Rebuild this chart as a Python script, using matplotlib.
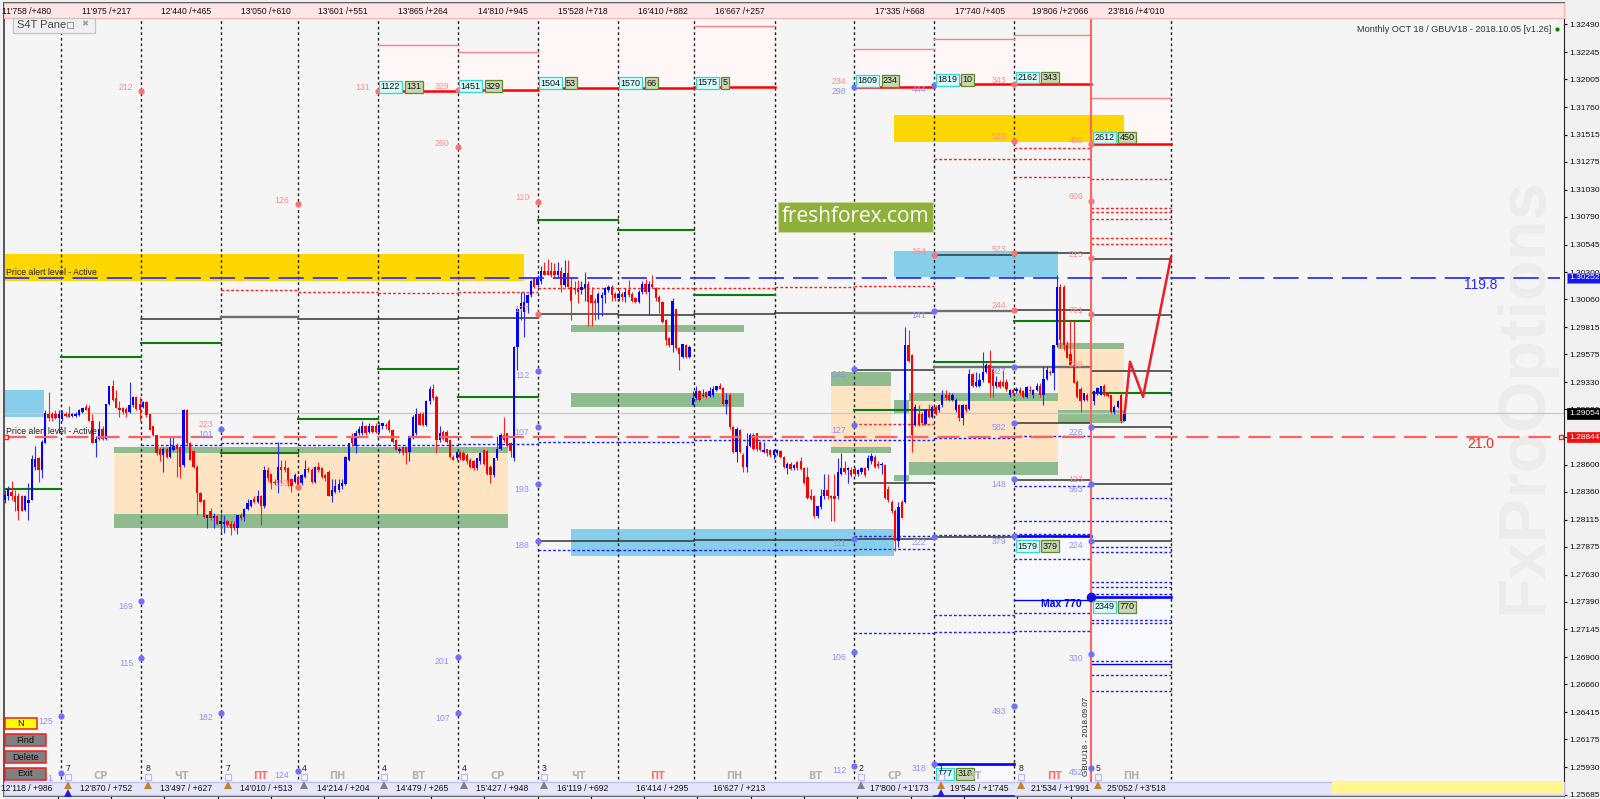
"""Hourly GBUV18 chart with monthly option levels, S4T style."""

import matplotlib

matplotlib.use("Agg")
import matplotlib.pyplot as plt
import numpy as np
from matplotlib.patches import Rectangle

# candles: price minus 1.0, in pips
opens = [2829,2832,2836,2832,2832,2832,2820,2826,2829,2858,2866,2855,2879,2905,2905,2905,2901,2900,2905,2905,
         2903,2903,2904,2907,2911,2910,2899,2879,2883,2892,2883,2914,2930,2919,2910,2910,2909,2907,2913,2920,
         2914,2911,2915,2905,2894,2886,2874,2869,2874,2867,2873,2877,2876,2860,2908,2879,2872,2858,2835,2829,
         2813,2819,2813,2815,2808,2808,2810,2808,2808,2804,2816,2814,2821,2824,2830,2827,2832,2824,2855,2852,
         2845,2844,2858,2858,2857,2847,2845,2849,2844,2849,2856,2855,2845,2858,2857,2851,2854,2832,2836,2838,
         2841,2843,2864,2885,2877,2888,2888,2894,2889,2894,2894,2889,2894,2895,2899,2891,2882,2872,2876,2876,
         2871,2885,2888,2905,2905,2895,2916,2927,2920,2882,2889,2889,2882,2867,2866,2871,2870,2869,2864,2863,
         2857,2863,2873,2872,2858,2851,2866,2874,2886,2888,2879,2866,2964,2998,2995,3003,3010,3025,3019,3022,
         3031,3031,3031,3031,3028,3031,3019,3029,3017,3016,3016,3014,3016,3020,3010,3005,3003,3007,3010,3014,
         3017,3011,3007,3011,3008,3014,3011,3007,3004,3013,3020,3013,3020,3016,3008,3004,2988,2972,2966,2998,
         2963,2955,2966,2955,2913,2919,2925,2921,2924,2921,2922,2926,2930,2928,2914,2922,2893,2871,2891,2869,
         2858,2877,2886,2888,2880,2871,2874,2873,2869,2870,2872,2867,2857,2861,2857,2862,2863,2857,2849,2832,
         2832,2815,2823,2832,2838,2832,2832,2832,2852,2857,2855,2855,2856,2852,2854,2857,2857,2863,2867,2861,
         2860,2860,2839,2827,2819,2793,2827,2827,2966,2957,2895,2905,2905,2896,2908,2902,2911,2908,2913,2922,
         2922,2917,2908,2913,2901,2913,2909,2940,2930,2930,2935,2942,2948,2945,2930,2933,2933,2933,2922,2926,
         2925,2926,2925,2920,2926,2922,2926,2930,2922,2936,2942,2941,2966,3017,3017,2966,2958,2948,2933,2927,
         2917,2922,2922,2916,2923,2922,2930,2923,2922,2907,2911,2922,2899]
highs = [2838,2841,2846,2838,2835,2833,2833,2844,2869,2877,2867,2882,2908,2924,2907,2908,2908,2908,2907,2912,
         2906,2907,2909,2910,2914,2913,2905,2885,2899,2894,2914,2930,2935,2926,2916,2911,2911,2933,2921,2921,
         2920,2916,2916,2905,2894,2886,2876,2876,2876,2885,2885,2879,2877,2909,2909,2880,2873,2860,2836,2829,
         2816,2822,2817,2816,2817,2816,2811,2810,2810,2816,2817,2822,2830,2829,2832,2838,2833,2859,2858,2852,
         2847,2880,2864,2864,2858,2848,2853,2851,2852,2864,2858,2857,2859,2862,2858,2852,2855,2847,2847,2847,
         2847,2868,2879,2888,2891,2894,2899,2895,2897,2895,2897,2898,2897,2897,2900,2892,2883,2876,2877,2877,
         2885,2904,2910,2907,2907,2917,2930,2931,2922,2894,2891,2891,2883,2869,2872,2872,2872,2870,2866,2864,
         2866,2871,2874,2873,2860,2866,2885,2888,2902,2888,2880,2965,2999,3013,3013,3011,3023,3026,3028,3036,
         3039,3042,3039,3038,3039,3035,3041,3041,3025,3022,3023,3022,3030,3022,3017,3007,3013,3013,3017,3019,
         3019,3013,3014,3013,3016,3023,3013,3008,3014,3022,3024,3022,3028,3017,3010,3005,2989,2973,3007,2998,
         2964,2967,2967,2966,2925,2930,2926,2927,2925,2929,2930,2930,2932,2929,2923,2923,2894,2893,2892,2870,
         2888,2888,2888,2888,2881,2880,2874,2874,2874,2874,2873,2868,2862,2862,2861,2863,2867,2858,2858,2839,
         2833,2824,2839,2852,2852,2833,2852,2866,2870,2863,2858,2858,2858,2856,2858,2858,2869,2870,2869,2863,
         2862,2861,2841,2829,2821,2827,2829,2982,2979,2958,2914,2913,2907,2909,2914,2913,2913,2914,2926,2926,
         2924,2923,2919,2914,2914,2914,2945,2941,2942,2941,2960,2950,2961,2947,2938,2935,2944,2936,2927,2927,
         2929,2929,2926,2930,2930,2927,2932,2932,2947,2947,2944,2966,3028,3020,3019,2969,2988,2988,2935,2929,
         2923,2923,2923,2925,2929,2930,2931,2924,2922,2913,2917,2923,2905]
lows = [2826,2829,2829,2819,2811,2819,2819,2811,2829,2855,2845,2848,2879,2899,2899,2900,2888,2899,2902,2902,
        2902,2902,2903,2906,2908,2899,2879,2867,2882,2882,2882,2913,2916,2910,2902,2905,2902,2906,2911,2908,
        2899,2910,2902,2891,2885,2869,2863,2854,2866,2866,2872,2849,2848,2858,2877,2864,2857,2816,2827,2813,
        2804,2811,2804,2807,2801,2800,2805,2798,2802,2799,2811,2810,2820,2823,2826,2826,2807,2822,2846,2839,
        2842,2835,2844,2854,2841,2836,2844,2839,2842,2848,2854,2844,2844,2854,2848,2846,2832,2827,2835,2836,
        2839,2842,2863,2877,2870,2886,2886,2886,2888,2888,2888,2888,2892,2892,2889,2879,2873,2870,2869,2861,
        2863,2883,2886,2895,2894,2894,2914,2917,2870,2880,2882,2879,2866,2864,2864,2864,2863,2861,2857,2855,
        2855,2861,2860,2851,2844,2849,2864,2873,2880,2876,2867,2863,2944,2988,2973,2994,3008,3016,3017,3020,
        3028,3028,3026,3026,3026,3013,3017,3017,2988,3011,3003,3011,3005,2983,2983,2988,2989,2991,3003,3013,
        3005,3005,3005,3005,3004,3008,3004,3003,3003,3011,3011,2992,3016,3005,2994,2985,2966,2964,2960,2961,
        2944,2954,2954,2954,2913,2917,2916,2920,2919,2920,2920,2925,2927,2913,2905,2892,2870,2862,2870,2854,
        2854,2876,2873,2872,2872,2870,2868,2867,2865,2869,2866,2857,2852,2855,2855,2855,2855,2843,2830,2829,
        2813,2813,2821,2830,2830,2810,2810,2830,2851,2852,2844,2849,2850,2850,2852,2849,2855,2861,2857,2857,
        2852,2830,2827,2817,2784,2787,2813,2826,2951,2871,2894,2894,2895,2895,2901,2901,2904,2907,2911,2917,
        2916,2916,2907,2899,2895,2907,2908,2929,2929,2929,2933,2941,2920,2920,2928,2928,2929,2925,2920,2922,
        2923,2922,2919,2919,2923,2919,2925,2920,2913,2935,2939,2926,2964,2963,2961,2954,2948,2932,2919,2907,
        2916,2916,2916,2913,2922,2922,2921,2920,2906,2905,2910,2897,2899]
closes = [2833,2839,2832,2827,2819,2819,2832,2829,2865,2865,2855,2880,2906,2901,2901,2901,2905,2906,2903,2902,
          2905,2905,2908,2910,2908,2899,2879,2883,2892,2883,2914,2930,2917,2910,2908,2907,2906,2913,2920,2909,
          2908,2915,2904,2891,2886,2870,2869,2874,2867,2876,2877,2874,2858,2908,2879,2864,2858,2835,2827,2814,
          2816,2813,2815,2808,2810,2809,2807,2804,2804,2816,2813,2821,2826,2829,2827,2832,2824,2855,2848,2844,
          2844,2858,2855,2855,2845,2841,2851,2841,2851,2856,2855,2845,2858,2855,2849,2848,2832,2838,2841,2843,
          2844,2867,2879,2879,2888,2892,2894,2888,2894,2889,2889,2895,2897,2894,2891,2880,2873,2874,2870,2870,
          2885,2902,2905,2895,2895,2916,2927,2919,2882,2888,2883,2880,2867,2864,2871,2866,2864,2863,2858,2857,
          2866,2870,2861,2852,2851,2866,2874,2886,2882,2877,2872,2964,2998,3003,3004,3010,3022,3017,3026,3031,
          3028,3028,3028,3028,3031,3019,3029,3017,3005,3014,3013,3017,3020,3004,3003,3003,3011,3010,3016,3017,
          3010,3007,3011,3008,3013,3010,3005,3004,3013,3020,3013,3020,3017,3007,3004,2986,2970,2966,3005,2963,
          2958,2967,2955,2964,2919,2925,2917,2922,2920,2925,2927,2930,2927,2914,2917,2893,2871,2892,2871,2858,
          2877,2886,2874,2874,2873,2873,2870,2869,2873,2873,2867,2858,2861,2856,2860,2857,2856,2844,2831,2830,
          2815,2824,2832,2838,2832,2831,2830,2854,2857,2854,2857,2851,2852,2855,2857,2851,2866,2868,2858,2859,
          2861,2831,2829,2819,2793,2823,2813,2966,2952,2886,2911,2895,2897,2908,2902,2911,2905,2913,2922,2919,
          2917,2922,2917,2901,2913,2908,2940,2930,2933,2935,2942,2948,2932,2930,2933,2929,2930,2927,2926,2923,
          2927,2923,2920,2929,2925,2926,2930,2922,2936,2944,2941,2966,3017,2970,2966,2954,2948,2932,2920,2916,
          2923,2917,2917,2925,2928,2930,2922,2921,2907,2911,2916,2899,2905]

# price scale
y_ticks = [1.32490, 1.32245, 1.32005, 1.31760, 1.31515, 1.31275, 1.31030, 1.30790, 1.30545, 1.30300,
           1.30060, 1.29815, 1.29575, 1.29330, 1.29090, 1.28845, 1.28600, 1.28360, 1.28115, 1.27875,
           1.27630, 1.27390, 1.27145, 1.26900, 1.26660, 1.26415, 1.26175, 1.25930, 1.25685]
alert_high = 1.30252
alert_low = 1.28844
last_price = 1.29054

# levels per session: (from session, to session, pips)
strike_lines = [(4,5,3190),(5,6,3191),(6,7,3193),(7,8,3193),(8,9,3194),(10,11,3194),(11,12,3196),(12,13,3196),(13,14,3143)]
cap_lines = [(4,5,3231),(5,6,3225),(8,9,3248),(10,11,3227),(11,12,3236),(12,13,3240),(13,14,3184)]
red_dashes = [(2,3,3014),(3,4,3013),(4,5,3012),(5,6,3013),(6,7,3016),(7,8,3016),(8,9,3016),(9,10,3017),(10,11,3017.5),
              (10,11,2896),(11,12,3130),(12,13,3140),(12,13,3130),(12,13,3114),(13,14,3112),(13,14,3086.5),(13,14,3083),
              (13,14,3077),(13,14,3060.5),(13,14,3055)]
black_lines = [(1,2,2989),(3,4,2989),(4,5,2989),(5,6,2990),(6,7,2993),(7,8,2992),(8,9,2993),(9,10,2994),(12,13,2997),
               (13,14,2992),(11,12,3045),(12,13,3047),(13,14,3042),(10,11,2944),(13,14,2943),(12,13,2897),(13,14,2893),
               (10,11,2844),(12,13,2846.5),(13,14,2843),(6,7,2793),(7,8,2793),(8,9,2793.5),(9,10,2793.5),(10,11,2794.5),
               (11,12,2796),(13,14,2793)]
grey_lines = [(2,3,2990.5),(10,11,2994.5),(11,12,2996),(11,12,2946),(12,13,2946.5)]
green_lines = [(-1,0,2839),(0,1,2955.5),(1,2,2967.5),(2,3,2870),(3,4,2900),(4,5,2945),(5,6,2920),(6,7,3076),(7,8,3067),
               (8,9,3010),(10,11,2908.5),(11,12,2951),(12,13,2987),(13,14,2923)]
blue_dashes = [(1,2,2877.5),(2,3,2879),(3,4,2877.5),(4,5,2877.5),(5,6,2878),(6,7,2880),(7,8,2880),(8,9,2882),(9,10,2882),
               (10,11,2882),(11,12,2884),(12,13,2885),(10,11,2797),(11,12,2798),(12,13,2799),(6,7,2785),(7,8,2785),
               (8,9,2785),(9,10,2785),(10,11,2786),(12,13,2841),(12,13,2810),(12,13,2776.5),(12,13,2729),(12,13,2713),
               (11,12,2727),(11,12,2712.5),(10,11,2711),(13,14,2830.5),(13,14,2810),(13,14,2787.5),(13,14,2782.5),
               (13,14,2756.5),(13,14,2752),(13,14,2745.5),(13,14,2723),(13,14,2720),(13,14,2687),(13,14,2674),(13,14,2660)]
blue_lines = [(12,13,2797,2.4),(13,14,2743,2.4),(11,12,2595.7,2.4),(12,13,2740.6,1.2),(13,14,2684,1.2)]

pink_zones = [(4,5,3190,3231),(5,6,3191,3225),(6,7,3193,3255),(7,8,3193,3255),(8,9,3194,3255),(10,11,3194,3227),
              (11,12,3196,3236),(12,13,3196,3240),(13,14,3143,3184)]
pale_blue_zones = [(12,13,2740.6,2797),(13,14,2684,2743),(11,12,2582,2595.7)]

# coloured blocks: left, right, low pips, high pips
gold_blocks = [(4,524,3022,3046),(894,1124,3145,3169)]
sky_blocks = [(4,44,2902.4,2926),(894,1057.6,3025.6,3049),(571,894,2779.6,2803)]
peach_blocks = [(114,508,2816.5,2870),(831,890.5,2876,2930),(908.5,1057.6,2862.7,2916.6),(1057.6,1124,2908.4,2962)]
green_blocks = [(114,508,2870,2876),(114,508,2804,2816.5),(571,744,2977.5,2983.4),(571,744,2911.3,2923),
                (831,890.5,2930,2942),(831,890.5,2870,2876),(908.5,1057.6,2916.6,2923),(908.5,1057.6,2851,2862.7),
                (894,908.5,2905.6,2917),(894,908.5,2845.6,2851),(1057.6,1124,2962,2967.8),(1057.6,1124,2896.6,2908.4)]

# volume dots on session separators
red_dots_session = [1,4,5,5,3,6,12,12,11,12,13,13,13,13,6,3,12]
red_dots_pips = [3190,3190,3191,3140.5,3090,3092.5,3196,3146,3045,3047,3143,3093,3042.5,2993,2993.5,2840,2997]
red_dots_text = ["212","131","329","260","126","110","343","519","164","523","450","606","215","761","177","153","244"]
blue_dots_session = [10,11,2,6,6,6,6,11,10,10,12,12,12,13,13,10,11,12,13,13,1,1,0,2,5,5,0,3,10,10,11,12,13]
blue_dots_pips = [3194,3195.5,2891.5,2943,2893,2843,2793,2996,2944.5,2895,2946.5,2897,2847,2893,2843,2794.5,2796,2797,
                  2793,2693,2739.5,2689,2638,2641,2690.5,2640.5,2587.5,2589.5,2694.5,2594,2595.7,2646.5,2592.5]
blue_dots_text = ["298","444","101","112","107","193","188","141","242","127","927","582","148","226","563","111","222",
                  "379","224","330","169","115","125","182","201","107","161","124","106","112","318","493","452"]
extra_red_text = ["234","223","123","759"]
extra_red_session = [10,2,13,13]
extra_red_pips = [3194,2891.5,2843,2944]

# option tags on the strike lines
tag_session = [4,5,6,7,8,10,11,12,13,12,13,11]
tag_pips = [3194,3194.5,3197,3197,3197.5,3199,3200,3202,3149,2788,2734.5,2587]
tag_volume = ["1122","1451","1504","1570","1575","1809","1819","2162","2612","1579","2349","177"]
tag_change = ["131","329","53","66","5","234","10","343","450","379","770","318"]

# forecast path
path_x = [1124.7, 1130, 1143, 1171]
path_pips = [2905.7, 2951, 2920, 3043.5]

session_x = [61.3,141.2,221.4,297.5,377.8,457.6,537.5,617.8,694.3,774.5,854.4,934.3,1014.2,1091.3,1170.9]

header_text = ["11'758 /+480","11'975 /+217","12'440 /+465","13'050 /+610","13'601 /+551","13'865 /+264","14'810 /+945",
               "15'528 /+718","16'410 /+882","16'667 /+257","17'335 /+668","17'740 /+405","19'806 /+2'066","23'816 /+4'010"]
header_x = [27,106,186,266,343,423,503,583,663,740,900,980,1060,1136]
footer_text = ["12'118 / +986","12'870 / +752","13'497 / +627","14'010 / +513","14'214 / +204","14'479 / +265","15'427 / +948",
               "16'119 / +692","16'414 / +295","16'627 / +213","17'800 / +1'173","19'545 / +1'745","21'534 / +1'991","25'052 / +3'518"]
footer_x = [27,106,186,266,343,422.5,502,583,662.6,739,899.5,979,1060,1136]
weekday_text = ["СР","ЧТ","ПТ","ПН","ВТ","СР","ЧТ","ПТ","ПН","ВТ","СР","ЧТ","ПТ","ПН"]
weekday_x = [101,181.5,261,337.5,417.7,498,578,658,734,815,894.7,975,1054.5,1131]
count_text = ["7","8","7","4","4","4","3","2","1","8","5"]
count_x = [68,147.7,227.6,304,384,464,544,861,941,1020.7,1098]
count_up_orange = [True,True,True,False,False,False,False,False,True,True,True]

plt.rcParams["font.family"] = ["Liberation Sans", "DejaVu Sans"]

W, H = 1600, 799
LEFT, RIGHT, TOP, BOTTOM = 3.5, 1564, 3, 796


def price(pips):
    return 1 + np.asarray(pips, dtype=float) / 1e4


def sx(i):
    return 4 if i < 0 else session_x[i]


fig = plt.figure(figsize=(W / 100, H / 100), dpi=100, facecolor="#f0f0f0")
ax = fig.add_axes([LEFT / W, 1 - BOTTOM / H, (RIGHT - LEFT) / W, (BOTTOM - TOP) / H], facecolor="#f5f5f5")
ax.set_xlim(LEFT, RIGHT)
ax.set_ylim(1.25674, 1.32679)
ax.yaxis.tick_right()
ax.set_yticks(y_ticks)
ax.set_yticklabels([f"{t:.5f}" for t in y_ticks], fontsize=6.0, color="#111111")
ax.tick_params(axis="y", length=2.5, width=0.8, pad=1)
ax.set_xticks(np.arange(57.9, 1170, 53.3))
ax.set_xticklabels([])
ax.tick_params(axis="x", length=3, width=0.8)
for name, spine in ax.spines.items():
    spine.set_color("#555555" if name != "right" else "#222222")
    spine.set_linewidth(1.4 if name in ("left", "top") else 0.8)

# watermark
ax.text(1525, price(2921), "FxProOptions", rotation=90, ha="center", va="center", fontsize=47.5,
        fontweight="bold", color="#ececec", zorder=0.5)

for a, b, lo, hi in pink_zones:
    ax.add_patch(Rectangle((sx(a), price(lo)), sx(b) - sx(a), price(hi) - price(lo), fc="#fff7f7", ec="none", zorder=0.6))
for a, b, lo, hi in pale_blue_zones:
    ax.add_patch(Rectangle((sx(a), price(lo)), sx(b) - sx(a), price(hi) - price(lo), fc="#f8f8ff", ec="none", zorder=0.6))
for blocks, colour in ((gold_blocks, "#ffd700"), (sky_blocks, "#87ceeb"), (peach_blocks, "#ffe4c4"), (green_blocks, "#8fbc8f")):
    for x0, x1, lo, hi in blocks:
        ax.add_patch(Rectangle((x0, price(lo)), x1 - x0, price(hi) - price(lo), fc=colour, ec="none", zorder=1))

# session separators
for x in session_x:
    if x != session_x[13]:
        ax.plot([x, x], [price(2582.5), price(3255)], color="#222222", lw=1.0, ls=(0, (2, 2)), zorder=2)
ax.plot([session_x[13]] * 2, [1.25674, price(3255)], color="#ff6464", lw=1.5, zorder=5)


def draw_levels(levels, **style):
    for a, b, p in levels:
        ax.plot([sx(a), sx(b)], [price(p)] * 2, **style)


draw_levels(cap_lines, color="#ff8080", lw=1.0, zorder=3)
draw_levels(strike_lines, color="#ff0000", lw=1.8, zorder=3)
draw_levels(red_dashes, color="#ff2020", lw=1.0, ls=(0, (2, 1.5)), zorder=3)
draw_levels(black_lines, color="#333333", lw=1.1, zorder=3)
draw_levels(grey_lines, color="#707070", lw=1.7, zorder=3)
draw_levels(green_lines, color="#0a7d0a", lw=1.5, zorder=3)
draw_levels(blue_dashes, color="#2020ff", lw=1.0, ls=(0, (2, 1.5)), zorder=3)
for a, b, p, w in blue_lines:
    ax.plot([sx(a), sx(b)], [price(p)] * 2, color="#0000ff", lw=w * 0.8, zorder=3)

# alert levels and last price
ax.axhline(last_price, color="#c8c8c8", lw=1.0, zorder=2.5)
ax.plot([4, RIGHT - 4], [alert_high] * 2, color="#3030ff", lw=1.3, ls=(0, (14, 5)), zorder=6)
ax.plot([4, RIGHT - 4], [alert_low] * 2, color="#ff6060", lw=1.6, ls=(0, (10, 4)), zorder=6)

# candles
bar_x = np.linspace(4.8, 1124.4, len(closes))
o, h, l, c = price(opens), price(highs), price(lows), price(closes)
up = c >= o
ax.vlines(bar_x[up], l[up], h[up], color="#2a2aff", lw=0.8, zorder=4)
ax.vlines(bar_x[~up], l[~up], h[~up], color="#ff2020", lw=0.8, zorder=4)
ax.bar(bar_x[up], (c - o)[up], bottom=o[up], width=2.3, color="#0000ff", zorder=4.2)
ax.bar(bar_x[~up], (o - c)[~up], bottom=c[~up], width=2.3, color="#ff0000", zorder=4.2)

# forecast path
ax.plot(path_x, price(path_pips), color="#ee1c25", lw=1.8, zorder=6)

# dots and their counts
ax.scatter([session_x[i] for i in red_dots_session], price(red_dots_pips), s=20, color="#ff7070", zorder=6, linewidths=0)
ax.scatter([session_x[i] for i in blue_dots_session], price(blue_dots_pips), s=20, color="#7070ff", zorder=6, linewidths=0)
ax.scatter([session_x[13]], price([2743]), s=48, color="#1010e0", zorder=6.5, linewidths=0)
for s, p, t in zip(red_dots_session, red_dots_pips, red_dots_text):
    ax.annotate(t, (session_x[s], price(p)), xytext=(-8, 4), textcoords="offset pixels", ha="right", va="center",
                fontsize=6.3, color="#ff8c8c", zorder=7)
for s, p, t in zip(blue_dots_session, blue_dots_pips, blue_dots_text):
    ax.annotate(t, (session_x[s], price(p)), xytext=(-8, -5), textcoords="offset pixels", ha="right", va="center",
                fontsize=6.3, color="#9090ff", zorder=7)
for s, p, t in zip(extra_red_session, extra_red_pips, extra_red_text):
    ax.annotate(t, (session_x[s], price(p)), xytext=(-8, 5), textcoords="offset pixels", ha="right", va="center",
                fontsize=6.3, color="#ff8c8c", zorder=7)

# option tags
for s, p, a, b in zip(tag_session, tag_pips, tag_volume, tag_change):
    w_a = 5.5 + 5 * len(a)
    x = session_x[s] + 3
    ax.text(x, price(p), a, fontsize=6.5, color="#111111", ha="left", va="center", zorder=8,
            bbox=dict(boxstyle="square,pad=0.15", fc="#d8fbfb", ec="#35d5d5", lw=0.9))
    ax.text(x + w_a, price(p), b, fontsize=6.5, color="#111111", ha="left", va="center", zorder=8,
            bbox=dict(boxstyle="square,pad=0.15", fc="#c9d8b0", ec="#5f8a2a", lw=0.9))

ax.text(6, price(3029.5), "Price alert level - Active", fontsize=6.2, color="#222222", va="center", zorder=7)
ax.text(6, price(2889), "Price alert level - Active", fontsize=6.2, color="#222222", va="center", zorder=7)
ax.text(1481, price(3019), "119.8", color="#2a2aff", fontsize=10, ha="center", va="center", zorder=7)
ax.text(1481, price(2878), "21.0", color="#ff2020", fontsize=10, ha="center", va="center", zorder=7)
ax.text(1061, price(2737), "Max 770", color="#0000ff", fontsize=7.5, fontweight="bold", ha="center", va="center", zorder=7)
ax.text(1086, price(2620), "GBUU18 - 2018.09.07", rotation=90, fontsize=5.8, color="#222222", ha="center", va="center", zorder=7)

ax.plot([1561], [alert_low], marker="s", ms=3.5, mfc="white", mec="#ff2020", zorder=7)
ax.plot([5.5], [alert_low], marker="s", ms=3.5, mfc="white", mec="#ff2020", zorder=7)

# right edge price boxes
for val, colour, edge in ((alert_high, "#1616e8", "#8080ff"), (last_price, "#000000", "#000000"), (alert_low, "#f01010", "#f01010")):
    ax.annotate(f"{val:.5f}", (1, val), xycoords=("axes fraction", "data"), xytext=(5, 0), textcoords="offset pixels",
                ha="left", va="center", fontsize=6.0, color="white", zorder=10, annotation_clip=False,
                bbox=dict(boxstyle="square,pad=0.2", fc=colour, ec=edge, lw=0.5))

# chart furniture in figure pixels
ui = fig.add_axes([0, 0, 1, 1], facecolor="none")
ui.set_xlim(0, W)
ui.set_ylim(H, 0)
ui.axis("off")
ui.add_patch(Rectangle((LEFT, 3), RIGHT - LEFT, 15, fc="#ffe6e6", ec="#ffb4b4", lw=0.8))
ui.add_patch(Rectangle((LEFT, 781.5), RIGHT - LEFT, 13.5, fc="#e6e6fa", ec="#c0c0f0", lw=1.0))
ui.add_patch(Rectangle((1331.5, 782.2), RIGHT - 1331.5, 12.2, fc="#fff68f", ec="none"))
ui.plot([session_x[11], session_x[12]], [796, 796], color="#2020c0", lw=1.2)
for t, x in zip(header_text, header_x):
    ui.text(x, 11, t, fontsize=6.2, color="#111111", ha="center", va="center")
for t, x in zip(footer_text, footer_x):
    ui.text(x, 788.7, t, fontsize=6.2, color="#111111", ha="center", va="center")
for t, x in zip(weekday_text, weekday_x):
    ui.text(x, 775.7, t, fontsize=7, fontweight="bold", ha="center", va="center", family="DejaVu Sans",
            color="#ff7070" if t == "ПТ" else "#b4b4b4")
for t, x, orange in zip(count_text, count_x, count_up_orange):
    ui.text(x, 768.7, t, fontsize=6.2, color="#222222", ha="center", va="center")
    ui.plot([x], [777.3], marker="s", ms=5, mfc="#f5f5ff", mec="#b8b8f8", mew=0.8)
    ui.plot([x], [785], marker="^", ms=6, color="#c88030" if orange else "#808080", mew=0)
for x in count_x:
    if x in (68, 941):
        ui.plot([x], [792.5], marker="^", ms=6, color="#2020d0", mew=0)

# pane caption
ui.add_patch(Rectangle((13, 18), 82, 15, fc="#f0f0f0", ec="#c4c4c4", lw=0.9))
ui.text(17, 25.5, "S4T Pane", fontsize=8, color="#444444", va="center")
ui.add_patch(Rectangle((67, 21.5), 6, 6, fc="none", ec="#999999", lw=0.7))
ui.text(85, 24, "✖", fontsize=6, color="#a0a0a0", ha="center", va="center", family="DejaVu Sans")

# version text
ui.text(1551, 29, "Monthly OCT 18 / GBUV18 - 2018.10.05 [v1.26]", fontsize=6.6, color="#333333", ha="right", va="center")
ui.plot([1557], [29], marker="o", ms=3, color="#0a7d0a", mew=0)

# buttons
for label, y0, x1, fc in (("N", 717.7, 37, "#ffff00"), ("Find", 734.3, 46, "#808080"),
                          ("Delete", 751, 46, "#808080"), ("Exit", 768, 46, "#808080")):
    ui.add_patch(Rectangle((4.5, y0), x1 - 4.5, 11.5, fc=fc, ec="#ee2020", lw=1.1))
    ui.text((4.5 + x1) / 2, y0 + 6, label, fontsize=6.6, color="#111111", ha="center", va="center")

# freshforex badge
ui.add_patch(Rectangle((777.6, 202), 155.4, 29.7, fc="#8fb03a", ec="#c6d89a", lw=0.8))
ui.text(855.3, 216, "freshforex.com", fontsize=15, color="white", ha="center", va="center", family="Open Sans")

fig.savefig("out.png", dpi=100, facecolor=fig.get_facecolor())
plt.close(fig)
